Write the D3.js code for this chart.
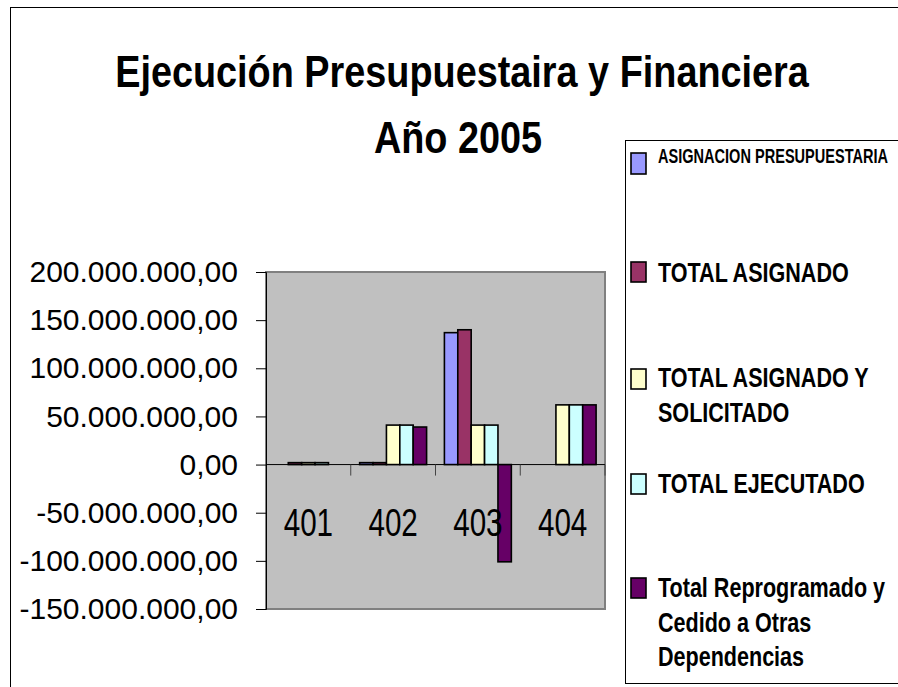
<!DOCTYPE html>
<html>
<head>
<meta charset="utf-8">
<script src="https://cdn.jsdelivr.net/npm/d3@7"></script>
<style>
  body { margin: 0; background: #fff; }
  svg { display: block; }
</style>
</head>
<body>
<svg id="chart"></svg>
<script>
const width = 898,
    height = 687;

// chart data
const categories = ['401', '402', '403', '404'];
const seriesNames = [
    'ASIGNACION PRESUPUESTARIA',
    'TOTAL ASIGNADO',
    'TOTAL ASIGNADO Y SOLICITADO',
    'TOTAL EJECUTADO',
    'Total Reprogramado y Cedido a Otras Dependencias',
];
const asignacion = [0, 2000000, 137000000, 0];
const totalAsignado = [2000000, 2000000, 140000000, 0];
const asignadoSolicitado = [2000000, 41000000, 41000000, 62000000];
const ejecutado = [2000000, 41000000, 41000000, 62000000];
const reprogramado = [0, 39000000, -101000000, 62000000];
const yTicks = [-150000000, -100000000, -50000000, 0, 50000000, 100000000, 150000000, 200000000];
const colors = ['#9999ff', '#993366', '#ffffcc', '#ccffff', '#660066'];

const series = [asignacion, totalAsignado, asignadoSolicitado, ejecutado, reprogramado];

// legend lines as they wrap in the original
const legendLines = [
    ['ASIGNACION PRESUPUESTARIA'],
    ['TOTAL ASIGNADO'],
    ['TOTAL ASIGNADO Y', 'SOLICITADO'],
    ['TOTAL EJECUTADO'],
    ['Total Reprogramado y', 'Cedido a Otras', 'Dependencias'],
];

const font = '"Liberation Sans", Arial, sans-serif';

const plot = { left: 266, right: 605, top: 272, bottom: 609 };

const svg = d3.select('#chart').attr('width', width).attr('height', height);

// squeeze text horizontally to mimic Arial Narrow
function condense(sel, k) {
    sel.each(function () {
        const t = d3.select(this);
        const x = +t.attr('x'), y = +t.attr('y');
        t.attr('x', 0).attr('y', 0).attr('transform', `translate(${x},${y}) scale(${k},1)`);
    });
}

// outer frame
svg.append('rect')
    .attr('x', 10.5).attr('y', 7.5)
    .attr('width', 900).attr('height', 700)
    .attr('fill', '#fff').attr('stroke', '#000').attr('stroke-width', 1);

// title
const title = svg.append('g')
    .attr('font-family', font)
    .attr('font-weight', 'bold')
    .attr('font-size', 44)
    .attr('text-anchor', 'middle');
title.append('text').attr('x', 462).attr('y', 87).text('Ejecución Presupuestaira y Financiera');
title.append('text').attr('x', 458).attr('y', 153).text('Año 2005');
title.selectAll('text').call(condense, 0.86);

// scales
const x0 = d3.scaleBand().domain(categories).range([plot.left, plot.right]).padding(0);
const x1 = d3.scaleBand().domain(d3.range(series.length)).range([0, x0.bandwidth()]).paddingInner(0).paddingOuter(0.665);
const y = d3.scaleLinear().domain([-150000000, 200000000]).range([plot.bottom, plot.top]);

// plot area
svg.append('rect')
    .attr('x', plot.left).attr('y', plot.top)
    .attr('width', plot.right - plot.left).attr('height', plot.bottom - plot.top)
    .attr('fill', '#c0c0c0').attr('stroke', '#808080').attr('stroke-width', 2);

// y axis
const locale = d3.formatLocale({ decimal: ',', thousands: '.', grouping: [3], currency: ['', ''], minus: '-' });
const fmt = locale.format(',.2f');
const yAxis = svg.append('g')
    .attr('transform', `translate(${plot.left},0)`)
    .call(d3.axisLeft(y).tickValues(yTicks).tickFormat(fmt).tickSize(10).tickPadding(18));
yAxis.select('.domain').attr('stroke', '#000');
yAxis.selectAll('.tick line').attr('stroke', '#000');
yAxis.selectAll('text')
    .attr('font-family', font)
    .attr('font-size', 30)
    .attr('fill', '#000');

// bars
const rows = categories.map((c, i) => ({ cat: c, vals: series.map((s) => s[i]) }));
const groups = svg.append('g').selectAll('g')
    .data(rows)
    .join('g')
    .attr('transform', (d) => `translate(${x0(d.cat)},0)`);

groups.selectAll('rect')
    .data((d) => d.vals.map((v, j) => ({ v, j })).filter((e) => e.v !== 0))
    .join('rect')
    .attr('x', (d) => x1(d.j))
    .attr('width', x1.bandwidth())
    .attr('y', (d) => y(Math.max(0, d.v)))
    .attr('height', (d) => Math.abs(y(d.v) - y(0)))
    .attr('fill', (d) => colors[d.j])
    .attr('stroke', '#000')
    .attr('stroke-width', 1.6);

// zero line and category ticks
svg.append('line')
    .attr('x1', plot.left).attr('x2', plot.right)
    .attr('y1', y(0)).attr('y2', y(0))
    .attr('stroke', '#000').attr('stroke-width', 1);

svg.append('g').selectAll('line')
    .data(categories.slice(1).map((c) => x0(c)).concat([plot.right]))
    .join('line')
    .attr('x1', (d) => d).attr('x2', (d) => d)
    .attr('y1', y(0)).attr('y2', y(0) + 11)
    .attr('stroke', '#444').attr('stroke-width', 1);

// category labels
svg.append('g').selectAll('text')
    .data(categories)
    .join('text')
    .attr('x', (d) => x0(d) + x0.bandwidth() / 2)
    .attr('y', 536)
    .attr('text-anchor', 'middle')
    .attr('font-family', font)
    .attr('font-size', 38)
    .text((d) => d)
    .call(condense, 0.78);

// legend
const legend = svg.append('g').attr('font-family', font).attr('font-weight', 'bold');
legend.append('rect')
    .attr('x', 625.5).attr('y', 140.5)
    .attr('width', 300).attr('height', 543)
    .attr('fill', '#fff').attr('stroke', '#000').attr('stroke-width', 1);

const swatchTop = [153, 262, 369, 474, 578];
const lineBase = [163, 282, 387, 493, 597];
const lineGap = 34.5;

legendLines.forEach((lines, i) => {
    legend.append('rect')
        .attr('x', 631).attr('y', swatchTop[i])
        .attr('width', 15).attr('height', i === 0 ? 21 : 20)
        .attr('fill', colors[i])
        .attr('stroke', '#000').attr('stroke-width', 1.6);
    lines.forEach((t, k) => {
        legend.append('text')
            .attr('x', 658)
            .attr('y', lineBase[i] + k * lineGap)
            .attr('font-size', i === 0 ? 20.5 : 28)
            .text(t)
            .call(condense, i === 0 ? 0.71 : 0.77);
    });
});
</script>
</body>
</html>
